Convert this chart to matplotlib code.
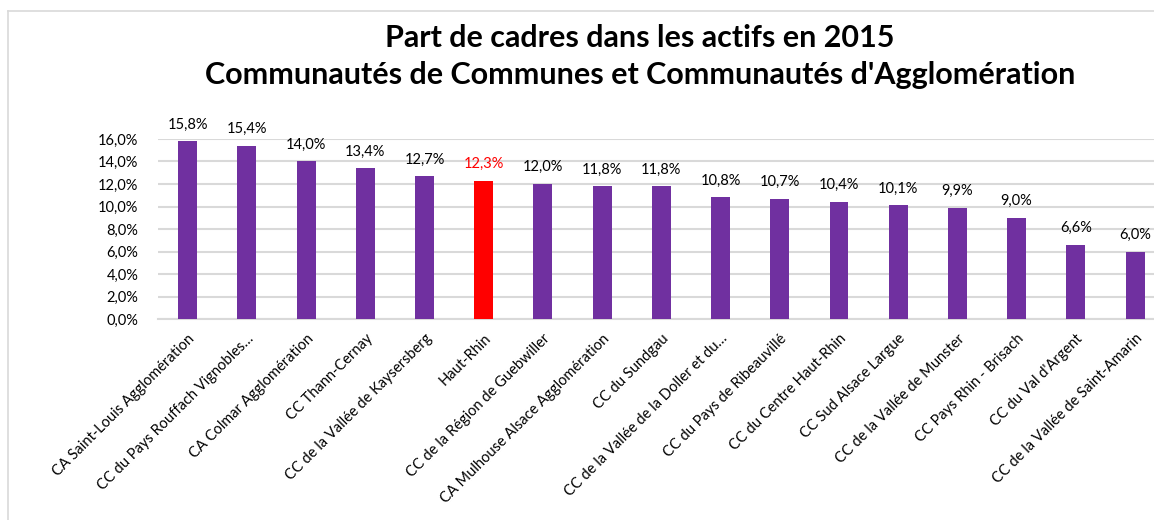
import matplotlib
matplotlib.use('Agg')
import matplotlib.pyplot as plt
from matplotlib.lines import Line2D

# data
territoires = [
    "CA Saint-Louis Agglomération",
    "CC du Pays Rouffach Vignobles…",
    "CA Colmar Agglomération",
    "CC Thann-Cernay",
    "CC de la Vallée de Kaysersberg",
    "Haut-Rhin",
    "CC de la Région de Guebwiller",
    "CA Mulhouse Alsace Agglomération",
    "CC du Sundgau",
    "CC de la Vallée de la Doller et du…",
    "CC du Pays de Ribeauvillé",
    "CC du Centre Haut-Rhin",
    "CC Sud Alsace Largue",
    "CC de la Vallée de Munster",
    "CC Pays Rhin - Brisach",
    "CC du Val d'Argent",
    "CC de la Vallée de Saint-Amarin",
]
part_cadres = [15.8, 15.4, 14.0, 13.4, 12.7, 12.3, 12.0, 11.8, 11.8,
               10.8, 10.7, 10.4, 10.1, 9.9, 9.0, 6.6, 6.0]
highlight = "Haut-Rhin"
y_ticks = [0, 2, 4, 6, 8, 10, 12, 14, 16]

plt.rcParams['font.family'] = ['Lato', 'DejaVu Sans']

W, H = 1154, 520
fig = plt.figure(figsize=(W / 100, H / 100), dpi=100)
ax = fig.add_axes([158 / W, 1 - 319 / H, 1 - 158 / W, (319 - 139) / H])

colors = ['#FF0000' if t == highlight else '#7030A0' for t in territoires]
x = list(range(len(territoires)))
bars = ax.bar(x, part_cadres, width=0.32, color=colors, zorder=3)

for b, v, t in zip(bars, part_cadres, territoires):
    ax.annotate(f"{v:.1f}%".replace('.', ','),
                (b.get_x() + b.get_width() / 2, v),
                xytext=(0, 7), textcoords='offset points',
                ha='center', va='bottom', fontsize=10.5,
                color='#FF0000' if t == highlight else '#000000',
                annotation_clip=False)

ax.set_xlim(-0.5, 16.32)
ax.set_ylim(0, 16)
ax.set_yticks(y_ticks)
ax.set_yticklabels([f"{v:.1f}%".replace('.', ',') for v in y_ticks], fontsize=10.5)
ax.set_xticks(x)
ax.set_xticklabels(territoires, rotation=45, ha='right', rotation_mode='anchor',
                   fontsize=10.5)
ax.tick_params(axis='both', length=0)
ax.tick_params(axis='y', pad=14)
ax.tick_params(axis='x', pad=9)

ax.grid(axis='y', color='#D9D9D9', linewidth=1.5, zorder=0)
for s in ['top', 'right', 'left']:
    ax.spines[s].set_visible(False)
ax.spines['bottom'].set_color('#D9D9D9')
ax.spines['bottom'].set_linewidth(1.5)

fig.text(640 / W, 1 - 38 / H, "Part de cadres dans les actifs en 2015",
         ha='center', va='center', fontsize=22, fontweight='bold')
fig.text(640 / W, 1 - 75 / H,
         "Communautés de Communes et Communautés d'Agglomération",
         ha='center', va='center', fontsize=22, fontweight='bold')

# chart frame (only top and left visible in the crop)
fig.add_artist(Line2D([8 / W, 1], [1 - 11 / H, 1 - 11 / H], color='#D9D9D9', lw=1.2,
                      transform=fig.transFigure))
fig.add_artist(Line2D([8 / W, 8 / W], [0, 1 - 11 / H], color='#D9D9D9', lw=1.2,
                      transform=fig.transFigure))

fig.savefig('out.png', dpi=100)
plt.close()
